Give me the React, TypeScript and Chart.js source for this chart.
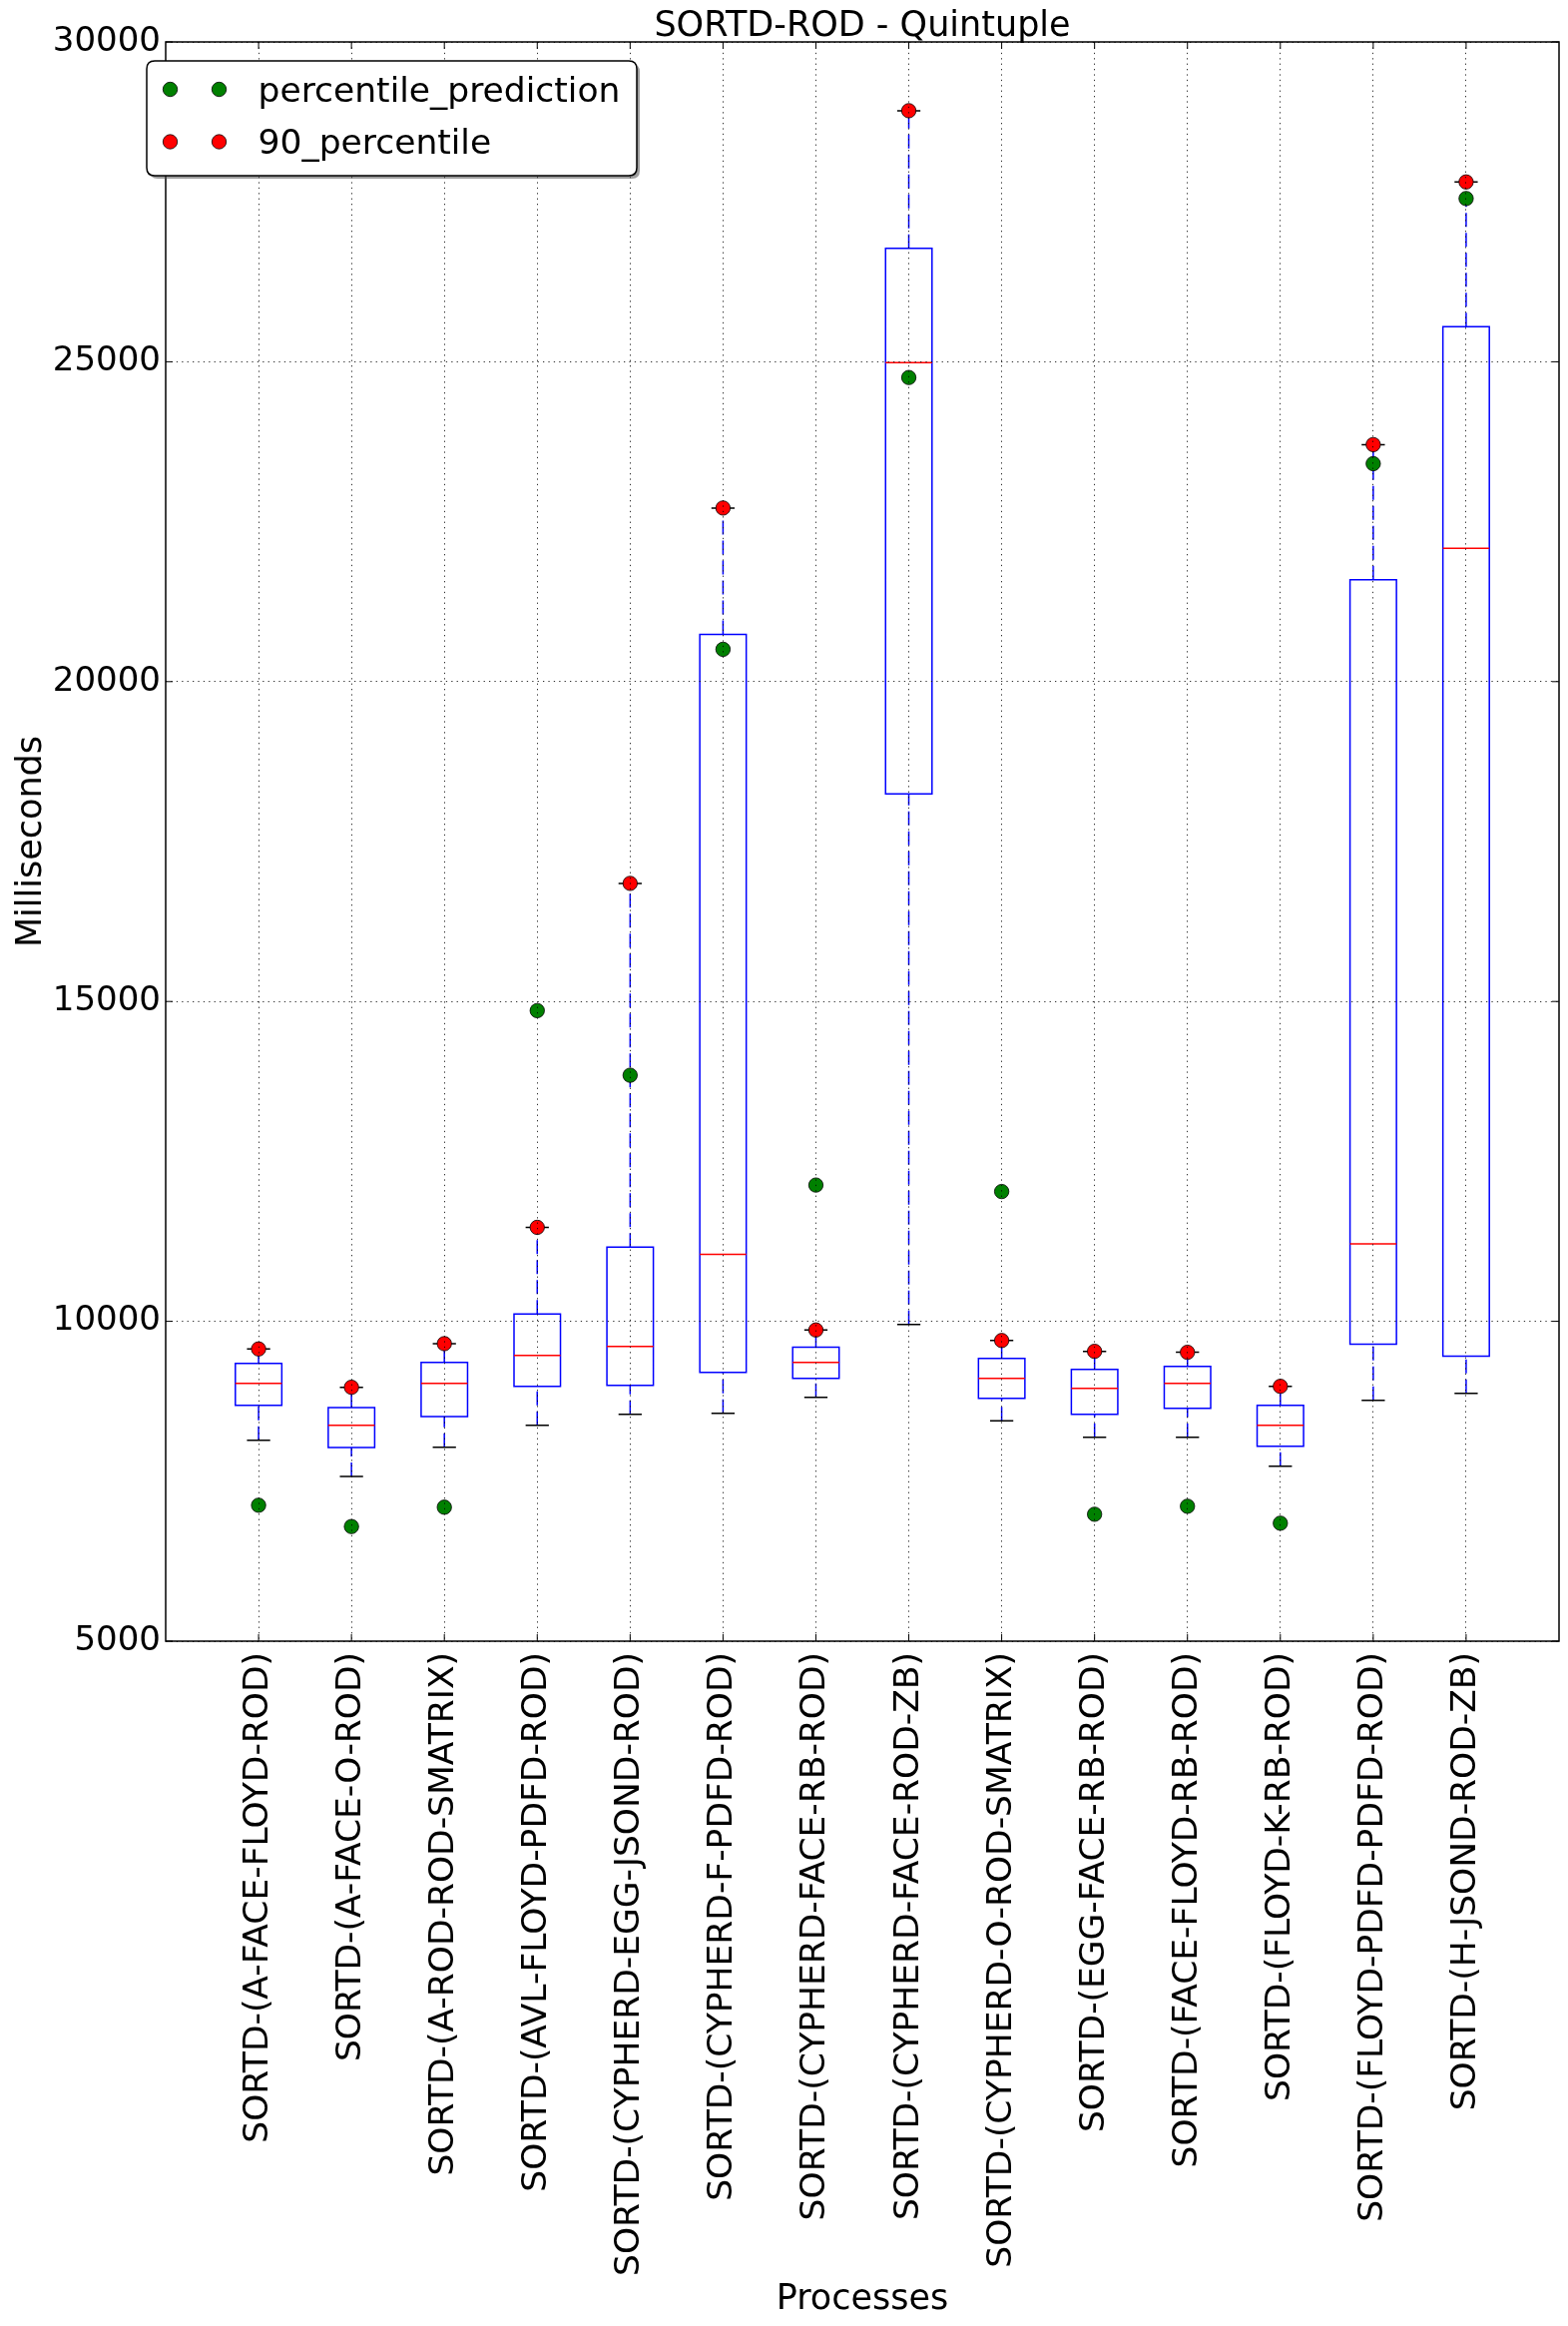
import React, { useEffect, useRef } from 'react';
import { Chart, registerables } from 'chart.js';

Chart.register(...registerables);

// ---------------- data ----------------
const categories = [
  'SORTD-(A-FACE-FLOYD-ROD)',
  'SORTD-(A-FACE-O-ROD)',
  'SORTD-(A-ROD-ROD-SMATRIX)',
  'SORTD-(AVL-FLOYD-PDFD-ROD)',
  'SORTD-(CYPHERD-EGG-JSOND-ROD)',
  'SORTD-(CYPHERD-F-PDFD-ROD)',
  'SORTD-(CYPHERD-FACE-RB-ROD)',
  'SORTD-(CYPHERD-FACE-ROD-ZB)',
  'SORTD-(CYPHERD-O-ROD-SMATRIX)',
  'SORTD-(EGG-FACE-RB-ROD)',
  'SORTD-(FACE-FLOYD-RB-ROD)',
  'SORTD-(FLOYD-K-RB-ROD)',
  'SORTD-(FLOYD-PDFD-PDFD-ROD)',
  'SORTD-(H-JSOND-ROD-ZB)',
];

const whiskerLow = [8141, 7573, 8031, 8375, 8547, 8563, 8813, 9950, 8443, 8188, 8188, 7734, 8766, 8875];
const q1Values = [8687, 8026, 8510, 8984, 9000, 9203, 9109, 18244, 8797, 8547, 8641, 8047, 9641, 9456];
const medianValues = [9031, 8375, 9031, 9469, 9609, 11047, 9359, 24987, 9109, 8953, 9031, 8375, 11212, 22085];
const q3Values = [9344, 8651, 9359, 10113, 11159, 20738, 9594, 26775, 9422, 9250, 9297, 8688, 21593, 25550];
const whiskerHigh = [9568, 8969, 9651, 11469, 16846, 22714, 9865, 28925, 9700, 9531, 9516, 8984, 23705, 27811];

const percentilePrediction = [7125, 6792, 7094, 14857, 13847, 20505, 12130, 24754, 12029, 6984, 7109, 6844, 23407, 27552];
const percentile90 = [9568, 8969, 9651, 11469, 16846, 22714, 9865, 28925, 9700, 9531, 9516, 8984, 23705, 27811];

const yTicks = [5000, 10000, 15000, 20000, 25000, 30000];

const TITLE = 'SORTD-ROD - Quintuple';
const X_TITLE = 'Processes';
const Y_TITLE = 'Milliseconds';

// ---------------- geometry helpers (in data units) ----------------
const BOX_HALF = 0.25;
const CAP_HALF = 0.125;
const positions = categories.map((_, i) => i + 1);

type P = { x: number; y: number | null };

const boxPoints: P[] = positions.flatMap((x, i) => [
  { x: x - BOX_HALF, y: q1Values[i] },
  { x: x + BOX_HALF, y: q1Values[i] },
  { x: x + BOX_HALF, y: q3Values[i] },
  { x: x - BOX_HALF, y: q3Values[i] },
  { x: x - BOX_HALF, y: q1Values[i] },
  { x, y: null },
]);

const whiskerPoints: P[] = positions.flatMap((x, i) => [
  { x, y: q3Values[i] },
  { x, y: whiskerHigh[i] },
  { x, y: null },
  { x, y: whiskerLow[i] },
  { x, y: q1Values[i] },
  { x, y: null },
]);

const capPoints: P[] = positions.flatMap((x, i) => [
  { x: x - CAP_HALF, y: whiskerHigh[i] },
  { x: x + CAP_HALF, y: whiskerHigh[i] },
  { x, y: null },
  { x: x - CAP_HALF, y: whiskerLow[i] },
  { x: x + CAP_HALF, y: whiskerLow[i] },
  { x, y: null },
]);

const medianPoints: P[] = positions.flatMap((x, i) => [
  { x: x - BOX_HALF, y: medianValues[i] },
  { x: x + BOX_HALF, y: medianValues[i] },
  { x, y: null },
]);

const FONT = "'DejaVu Sans', 'Liberation Sans', sans-serif";

// ---------------- plugins ----------------
const framePlugin = {
  id: 'mplFrame',
  afterDraw(chart: any) {
    const { ctx, chartArea: a, scales } = chart;
    const tickLen = 7;
    ctx.save();
    ctx.strokeStyle = '#000';
    ctx.lineWidth = 1;
    ctx.setLineDash([]);
    scales.y.ticks.forEach((t: any) => {
      const py = scales.y.getPixelForValue(t.value);
      ctx.beginPath();
      ctx.moveTo(a.left, py);
      ctx.lineTo(a.left + tickLen, py);
      ctx.moveTo(a.right, py);
      ctx.lineTo(a.right - tickLen, py);
      ctx.stroke();
    });
    scales.x.ticks.forEach((t: any) => {
      const px = scales.x.getPixelForValue(t.value);
      ctx.beginPath();
      ctx.moveTo(px, a.bottom);
      ctx.lineTo(px, a.bottom - tickLen);
      ctx.moveTo(px, a.top);
      ctx.lineTo(px, a.top + tickLen);
      ctx.stroke();
    });
    ctx.lineWidth = 1.5;
    ctx.strokeRect(a.left, a.top, a.right - a.left, a.bottom - a.top);
    ctx.restore();
  },
};

function roundRect(ctx: CanvasRenderingContext2D, x: number, y: number, w: number, h: number, r: number) {
  ctx.beginPath();
  ctx.moveTo(x + r, y);
  ctx.lineTo(x + w - r, y);
  ctx.quadraticCurveTo(x + w, y, x + w, y + r);
  ctx.lineTo(x + w, y + h - r);
  ctx.quadraticCurveTo(x + w, y + h, x + w - r, y + h);
  ctx.lineTo(x + r, y + h);
  ctx.quadraticCurveTo(x, y + h, x, y + h - r);
  ctx.lineTo(x, y + r);
  ctx.quadraticCurveTo(x, y, x + r, y);
  ctx.closePath();
}

const legendPlugin = {
  id: 'mplLegend',
  afterDraw(chart: any) {
    const { ctx, chartArea: a } = chart;
    const items = chart.data.datasets.filter((d: any) => d.showInLegend);
    const left = a.left - 19;
    const top = a.top + 19;
    const w = 491;
    const h = 115;
    ctx.save();
    // shadow
    roundRect(ctx, left + 3, top + 3, w, h, 8);
    ctx.fillStyle = 'rgba(80,80,80,0.55)';
    ctx.fill();
    roundRect(ctx, left, top, w, h, 8);
    ctx.fillStyle = '#fff';
    ctx.fill();
    ctx.lineWidth = 1.5;
    ctx.strokeStyle = '#000';
    ctx.stroke();
    items.forEach((d: any, k: number) => {
      const cy = top + 28.5 + k * 52.5;
      [left + 23.5, left + 72.5].forEach((cx) => {
        ctx.beginPath();
        ctx.arc(cx, cy, d.pointRadius, 0, Math.PI * 2);
        ctx.fillStyle = d.backgroundColor;
        ctx.fill();
        ctx.lineWidth = d.borderWidth;
        ctx.strokeStyle = d.borderColor;
        ctx.stroke();
      });
      ctx.fillStyle = '#000';
      ctx.font = `34.5px ${FONT}`;
      ctx.textAlign = 'left';
      ctx.textBaseline = 'alphabetic';
      ctx.fillText(d.label, left + 111.5, cy + 12.4);
    });
    ctx.restore();
  },
};

// ---------------- component ----------------
export default function App() {
  const ref = useRef<HTMLCanvasElement | null>(null);

  useEffect(() => {
    document.body.style.margin = '0';
    if (!ref.current) return;
    Chart.defaults.font.family = FONT;
    Chart.defaults.font.size = 34;
    Chart.defaults.color = '#000';

    const gridCommon = {
      color: 'rgba(0,0,0,0.8)',
      lineWidth: 1,
      drawTicks: false,
      z: 1,
    };

    const chart = new Chart(ref.current, {
      type: 'scatter',
      data: {
        datasets: [
          {
            label: 'percentile_prediction',
            showInLegend: true,
            data: positions.map((x, i) => ({ x, y: percentilePrediction[i] })),
            backgroundColor: '#008000',
            borderColor: '#000',
            borderWidth: 0.8,
            pointRadius: 7.2,
            order: 1,
          },
          {
            label: '90_percentile',
            showInLegend: true,
            data: positions.map((x, i) => ({ x, y: percentile90[i] })),
            backgroundColor: '#ff0000',
            borderColor: '#000',
            borderWidth: 0.8,
            pointRadius: 7.2,
            order: 0,
          },
          {
            label: 'medians',
            data: medianPoints,
            showLine: true,
            spanGaps: false,
            borderColor: '#ff0000',
            borderWidth: 1.5,
            pointRadius: 0,
            order: 2,
          },
          {
            label: 'caps',
            data: capPoints,
            showLine: true,
            spanGaps: false,
            borderColor: '#000',
            borderWidth: 1.5,
            pointRadius: 0,
            order: 3,
          },
          {
            label: 'boxes',
            data: boxPoints,
            showLine: true,
            spanGaps: false,
            borderColor: '#0000ff',
            borderWidth: 1.5,
            borderCapStyle: 'square',
            pointRadius: 0,
            order: 4,
          },
          {
            label: 'whiskers',
            data: whiskerPoints,
            showLine: true,
            spanGaps: false,
            borderColor: '#0000ff',
            borderWidth: 1.5,
            borderDash: [14, 6],
            pointRadius: 0,
            order: 5,
          },
        ] as any,
      },
      options: {
        responsive: false,
        maintainAspectRatio: false,
        devicePixelRatio: 1,
        animation: false,
        events: [],
        layout: { padding: { left: 0, right: 9, top: 0, bottom: 0 } },
        plugins: {
          legend: { display: false },
          tooltip: { enabled: false },
          title: {
            display: true,
            fullSize: false,
            text: TITLE,
            color: '#000',
            font: { size: 35, weight: 'normal', lineHeight: 0.9 },
            padding: { top: 11, bottom: -0.5 },
          },
        },
        scales: {
          x: {
            type: 'linear',
            min: 0,
            max: 15,
            grid: gridCommon,
            border: { display: false, dash: [1.3, 4.1] },
            afterBuildTicks: (scale: any) => {
              scale.ticks = positions.map((v) => ({ value: v }));
            },
            afterFit: (scale: any) => {
              scale.height = 686;
            },
            ticks: {
              autoSkip: false,
              minRotation: 90,
              maxRotation: 90,
              padding: 11,
              color: '#000',
              font: { size: 34.5, lineHeight: 1.2 },
              callback: (v: any) => categories[Number(v) - 1] ?? '',
            },
            title: {
              display: true,
              text: X_TITLE,
              color: '#000',
              font: { size: 35, lineHeight: 1.2 },
              padding: { top: 0, bottom: 5 },
            },
          },
          y: {
            type: 'linear',
            min: yTicks[0],
            max: yTicks[yTicks.length - 1],
            grid: gridCommon,
            border: { display: false, dash: [1.3, 4.1] },
            afterBuildTicks: (scale: any) => {
              scale.ticks = yTicks.map((v) => ({ value: v }));
            },
            afterFit: (scale: any) => {
              scale.width = 166;
            },
            ticks: {
              padding: 5,
              color: '#000',
              font: { size: 34, lineHeight: 1.2 },
              callback: (v: any) => String(v),
            },
            title: {
              display: true,
              text: Y_TITLE,
              color: '#000',
              font: { size: 35, lineHeight: 1.2 },
              padding: { top: 11, bottom: 0 },
            },
          },
        },
      } as any,
      plugins: [framePlugin, legendPlugin],
    });

    return () => chart.destroy();
  }, []);

  return (
    <div style={{ width: 1571, height: 2330, background: '#fff' }}>
      <canvas ref={ref} width={1571} height={2330} style={{ display: 'block' }} />
    </div>
  );
}
